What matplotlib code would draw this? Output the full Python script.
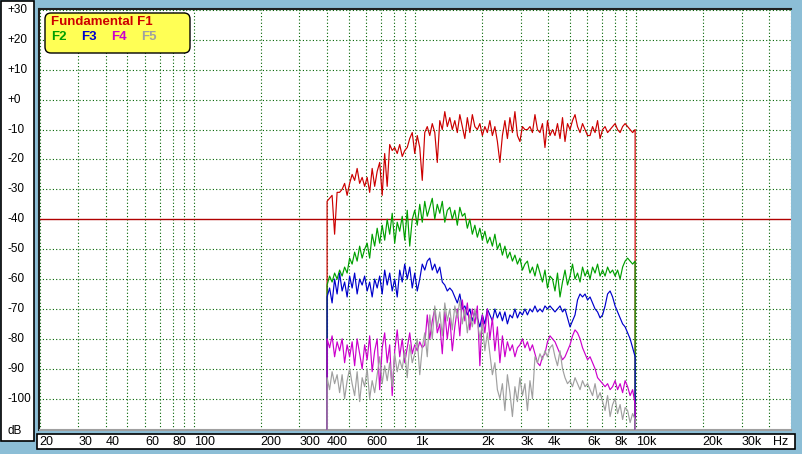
"""Harmonic distortion plot (F1..F5) on a log frequency axis, saved to out.png."""
import numpy as np
import matplotlib
matplotlib.use("Agg")
import matplotlib.pyplot as plt  # noqa: E402
from matplotlib.patches import Rectangle, FancyBboxPatch  # noqa: E402
from matplotlib.transforms import IdentityTransform, blended_transform_factory  # noqa: E402

W, H, DPI = 803, 454, 100

F1 = [-34, -33, -32, -45, -31, -31, -30, -28, -32, -28,
      -25, -27, -23, -28, -26, -29, -26, -31, -23, -29,
      -24, -21, -32, -18, -29, -15, -17, -16, -18, -15,
      -19, -17, -16, -13, -11, -18, -12, -16, -27, -11,
      -9, -12, -8, -11, -21, -7, -10, -4, -9, -6,
      -10, -7, -11, -5, -9, -13, -6, -11, -5, -9,
      -10, -8, -12, -9, -11, -7, -12, -9, -14, -21,
      -12, -7, -13, -6, -11, -4, -12, -14, -9, -10,
      -10, -9, -11, -5, -10, -11, -8, -16, -7, -12,
      -10, -12, -8, -13, -6, -14, -8, -10, -7, -5,
      -9, -11, -8, -10, -12, -12, -9, -11, -7, -13,
      -10, -9, -11, -10, -9, -8, -10, -11, -9, -8,
      -9, -10, -11, -10]
F2 = [-62, -59, -61, -58, -60, -57, -59, -56, -58, -53,
      -55, -51, -54, -49, -53, -50, -48, -53, -45, -49,
      -43, -48, -42, -47, -40, -45, -38, -48, -41, -44,
      -39, -47, -37, -49, -40, -37, -42, -35, -41, -34,
      -39, -36, -33, -40, -35, -38, -34, -41, -37, -36,
      -40, -37, -42, -36, -39, -38, -43, -40, -45, -42,
      -46, -43, -47, -44, -48, -46, -49, -45, -50, -48,
      -52, -49, -53, -51, -54, -52, -55, -53, -57, -55,
      -54, -58, -56, -59, -55, -58, -61, -57, -63, -59,
      -60, -64, -58, -66, -61, -57, -62, -59, -55, -60,
      -58, -61, -56, -59, -57, -60, -56, -58, -55, -59,
      -57, -59, -56, -58, -57, -59, -57, -60, -56, -54,
      -53, -54, -55, -54]
F3 = [-66, -63, -68, -60, -65, -58, -64, -61, -66, -59,
      -63, -58, -65, -60, -62, -59, -64, -61, -66, -60,
      -63, -59, -65, -57, -62, -58, -64, -60, -66, -57,
      -61, -55, -60, -56, -63, -58, -64, -60, -55, -57,
      -54, -53, -57, -55, -58, -56, -61, -62, -64, -63,
      -64, -66, -68, -65, -70, -69, -72, -70, -74, -71,
      -73, -76, -72, -75, -70, -72, -74, -70, -73, -71,
      -74, -71, -75, -72, -73, -70, -73, -71, -72, -70,
      -72, -70, -71, -69, -71, -70, -71, -69, -70, -69,
      -70, -71, -70, -69, -71, -70, -73, -76, -74, -72,
      -67, -65, -66, -65, -67, -66, -68, -70, -71, -73,
      -72, -69, -65, -64, -66, -69, -71, -73, -75, -76,
      -78, -80, -83, -86]
F4 = [-80, -83, -79, -86, -81, -84, -80, -88, -82, -86,
      -81, -89, -80, -85, -90, -82, -87, -79, -91, -84,
      -80, -97, -83, -78, -88, -82, -99, -84, -77, -86,
      -80, -88, -83, -78, -85, -82, -84, -81, -83, -82,
      -72, -80, -74, -70, -78, -75, -85, -71, -80, -73,
      -84, -76, -70, -79, -67, -74, -68, -77, -70, -75,
      -69, -89, -72, -78, -70, -80, -73, -84, -76, -88,
      -79, -86, -81, -84, -82, -86, -83, -82, -80, -83,
      -81, -84, -82, -85, -88, -89, -86, -85, -81, -79,
      -80, -81, -83, -85, -87, -86, -84, -82, -79, -77,
      -78, -80, -83, -85, -87, -86, -88, -90, -93, -94,
      -95, -96, -95, -97, -96, -94, -97, -95, -98, -94,
      -96, -99, -97, -102]
F5 = [-93, -97, -91, -95, -92, -98, -92, -100, -94, -90,
      -95, -99, -91, -101, -93, -96, -90, -100, -94, -98,
      -92, -86, -95, -89, -94, -88, -96, -85, -91, -87,
      -90, -84, -93, -82, -88, -85, -80, -92, -83, -78,
      -86, -72, -80, -69, -76, -71, -79, -68, -74, -70,
      -77, -69, -73, -67, -75, -70, -78, -72, -76, -70,
      -74, -80, -75, -84, -78, -85, -92, -88, -97, -100,
      -95, -104, -92, -98, -106, -96, -101, -93, -99, -95,
      -104, -94, -100, -86, -88, -85, -87, -84, -86, -83,
      -82, -86, -89, -84, -90, -93, -95, -94, -96, -93,
      -95, -97, -94, -96, -95, -97, -99, -95, -100, -98,
      -101, -104, -99, -106, -102, -100, -105, -102, -107, -103,
      -104, -108, -105, -107]

SERIES = [("F1", F1, "#cc0000"), ("F2", F2, "#00a000"), ("F3", F3, "#0000cc"),
          ("F4", F4, "#cc00cc"), ("F5", F5, "#a0a0a0")]
FREQ = np.geomspace(400, 9900, len(F1))

Y_TICKS = [30, 20, 10, 0, -10, -20, -30, -40, -50, -60, -70, -80, -90, -100]
Y_LABELS = ["+30", "+20", "+10", "+0", "-10", "-20", "-30", "-40", "-50",
            "-60", "-70", "-80", "-90", "-100"]
X_TICKS = [20, 30, 40, 60, 80, 100, 200, 300, 400, 600, 1000, 2000, 3000,
           4000, 6000, 8000, 10000, 20000, 30000]
X_LABELS = ["20", "30", "40", "60", "80", "100", "200", "300", "400", "600",
            "1k", "2k", "3k", "4k", "6k", "8k", "10k", "20k", "30k"]
X_GRID = [m * d for d in (10, 100, 1000, 10000) for m in range(1, 10)
          if 20 <= m * d <= 50000]

BG = "#8cbed6"
GRID = "#006400"
FONT = "Liberation Sans"
PX = IdentityTransform()


def px_box(x0, y0, x1, y1, **kw):
    """Rectangle given in image pixels (origin top-left)."""
    return Rectangle((x0, H - y1), x1 - x0, y1 - y0, transform=PX, **kw)


fig = plt.figure(figsize=(W / DPI, H / DPI), dpi=DPI)
fig.patch.set_facecolor(BG)

# side panels for the labels
fig.patches.append(px_box(0.5, 0.5, 33.5, 441, facecolor="white", edgecolor="black", lw=1.2))
fig.patches.append(px_box(37, 434, 795, 449, facecolor="white", edgecolor="black", lw=1.2))

x0, x1, y0, y1 = 39.5, 790.6, 8.5, 430
ax = fig.add_axes([x0 / W, (H - y1) / H, (x1 - x0) / W, (y1 - y0) / H])
ax.set_facecolor("white")
ax.set_xscale("log")
ax.set_xlim(20, 50000)
ax.set_ylim(-110.5, 30.5)
ax.set_xticks([])
ax.set_yticks([])
ax.minorticks_off()
ax.spines["right"].set_visible(False)
for side in ("top", "left"):
    ax.spines[side].set_color("#202020")
    ax.spines[side].set_linewidth(1.5)
ax.spines["bottom"].set_color("#a0a0a0")
ax.spines["bottom"].set_linewidth(1.5)

for f in X_GRID:
    ax.axvline(f, color=GRID, lw=0.8, ls=(0, (1, 2)), zorder=1)
for v in Y_TICKS:
    if v == -40:
        ax.axhline(v, color="#b00000", lw=1.0, zorder=1)
    else:
        ax.axhline(v, color=GRID, lw=0.8, ls=(0, (1, 2)), zorder=1)

floor = ax.get_ylim()[0]
for name, vals, color in SERIES:
    xs = np.concatenate([[FREQ[0]], FREQ, [FREQ[-1]]])
    ys = np.concatenate([[floor], vals, [floor]])
    ax.plot(xs, ys, color=color, lw=0.85, zorder=3)

# y labels in the left panel
ylab = blended_transform_factory(PX, ax.transData)
for v, s in zip(Y_TICKS, Y_LABELS):
    fig.text(7, v, s, transform=ylab, ha="left", va="center",
             fontsize=8.5, family=FONT)
fig.text(8, H - 431, "dB", transform=PX, ha="left", va="center",
         fontsize=8.5, family=FONT)

# x labels in the bottom panel, left aligned on their grid line
xlab = blended_transform_factory(ax.transData, PX)
for f, s in zip(X_TICKS, X_LABELS):
    fig.text(f, H - 441.7, s, transform=xlab, ha="left", va="center",
             fontsize=9, family=FONT)
fig.text(788, H - 441.7, "Hz", transform=PX, ha="right", va="center",
         fontsize=9, family=FONT)

# legend
fig.patches.append(FancyBboxPatch((45, H - 53), 145, 40,
                                  boxstyle="round,pad=0,rounding_size=6",
                                  transform=PX, facecolor="#ffff55",
                                  edgecolor="black", lw=1.0, zorder=5))
fig.text(51, H - 21.7, "Fundamental F1", transform=PX, color="#cc0000",
         fontsize=9.5, fontweight="bold", family=FONT, va="center", zorder=6)
for xp, (name, _, color) in zip((51, 80.7, 111, 140.7), SERIES[1:]):
    fig.text(xp, H - 36.7, name, transform=PX, color=color, fontsize=9.5,
             fontweight="bold", family=FONT, va="center", zorder=6)

fig.savefig("out.png", dpi=DPI, facecolor=BG)
